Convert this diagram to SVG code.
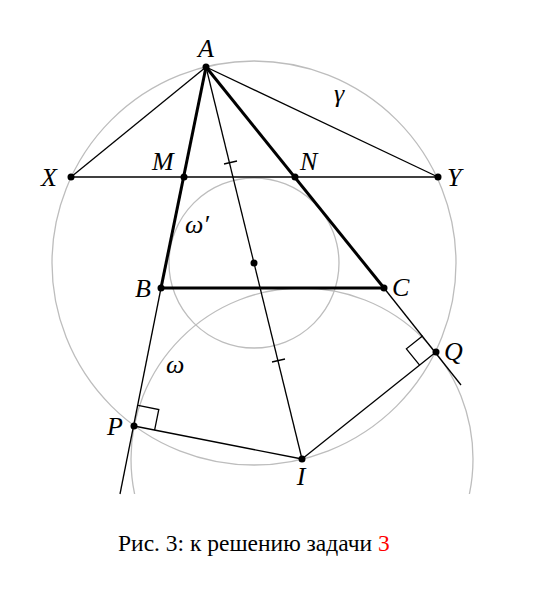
<svg xmlns="http://www.w3.org/2000/svg" width="555" height="590" viewBox="0 0 555 590">
<style>
.circ{fill:none;stroke:#bdbdbd;stroke-width:1.3}
.thin{fill:none;stroke:#000;stroke-width:1.3}
.thick{fill:none;stroke:#000;stroke-width:3}
.dot{fill:#000}
.lbl{font-family:"Liberation Serif","DejaVu Serif",serif;font-style:italic;font-size:26px;fill:#000}
.cap{font-family:"Liberation Serif","DejaVu Serif",serif;font-size:23.5px;fill:#000}
</style>
<defs>
<clipPath id="clip"><rect x="0" y="0" width="555" height="494"/></clipPath>
</defs>
<rect width="555" height="590" fill="#fff"/>
<g id="circles" clip-path="url(#clip)">
<circle id="gamma" class="circ" cx="254" cy="263" r="202"/>
<circle id="omega-prime" class="circ" cx="254" cy="263" r="85"/>
<circle id="omega" class="circ" cx="302" cy="459" r="171"/>
</g>
<g id="connectors">
<line class="thin" x1="206" y1="67" x2="71" y2="177"/>
<line class="thin" x1="206" y1="67" x2="438" y2="177"/>
<line class="thin" x1="71" y1="177" x2="438" y2="177"/>
<line class="thin" x1="206" y1="67" x2="302" y2="459"/>
<line class="thin" x1="161" y1="288" x2="120" y2="494"/>
<line class="thin" x1="384" y1="288" x2="461" y2="385"/>
<line class="thin" x1="134" y1="426" x2="302" y2="459"/>
<line class="thin" x1="436" y1="352" x2="302" y2="459"/>
<line class="thin" x1="224" y1="164" x2="237" y2="161"/>
<line class="thin" x1="272" y1="362" x2="285" y2="359"/>
<polyline class="thin" points="138.1,405.4 158.8,409.5 154.6,430.1"/>
<polyline class="thin" points="422.8,335.7 406.4,348.8 419.6,365.1"/>
<line class="thick" x1="206" y1="67" x2="161" y2="288"/>
<line class="thick" x1="206" y1="67" x2="384" y2="288"/>
<line class="thick" x1="161" y1="288" x2="384" y2="288"/>
</g>
<g id="A"><circle class="dot" cx="206" cy="67" r="3.5"/><text class="lbl" x="206" y="57" text-anchor="middle">A</text></g>
<g id="X"><circle class="dot" cx="71" cy="177" r="3.5"/><text class="lbl" x="41" y="186">X</text></g>
<g id="Y"><circle class="dot" cx="438" cy="177" r="3.5"/><text class="lbl" x="447" y="186">Y</text></g>
<g id="M"><circle class="dot" cx="184" cy="177" r="3.5"/><text class="lbl" x="152" y="170">M</text></g>
<g id="N"><circle class="dot" cx="295" cy="177" r="3.5"/><text class="lbl" x="300" y="170">N</text></g>
<g id="B"><circle class="dot" cx="161" cy="288" r="3.5"/><text class="lbl" x="135" y="297">B</text></g>
<g id="C"><circle class="dot" cx="384" cy="288" r="3.5"/><text class="lbl" x="392" y="296">C</text></g>
<g id="O"><circle class="dot" cx="254" cy="263" r="3.5"/></g>
<g id="P"><circle class="dot" cx="134" cy="426" r="3.5"/><text class="lbl" x="107" y="435">P</text></g>
<g id="Q"><circle class="dot" cx="436" cy="352" r="3.5"/><text class="lbl" x="444" y="360">Q</text></g>
<g id="I"><circle class="dot" cx="302" cy="459" r="3.5"/><text class="lbl" x="301" y="485" text-anchor="middle">I</text></g>
<g id="labels">
<text class="lbl" x="334" y="102">γ</text>
<text class="lbl" x="185" y="233">ω′</text>
<text class="lbl" x="166" y="373">ω</text>
</g>
<g id="caption"><text class="cap" x="118" y="551">Рис. 3: к решению задачи <tspan fill="#ff0000">3</tspan></text></g>
</svg>
